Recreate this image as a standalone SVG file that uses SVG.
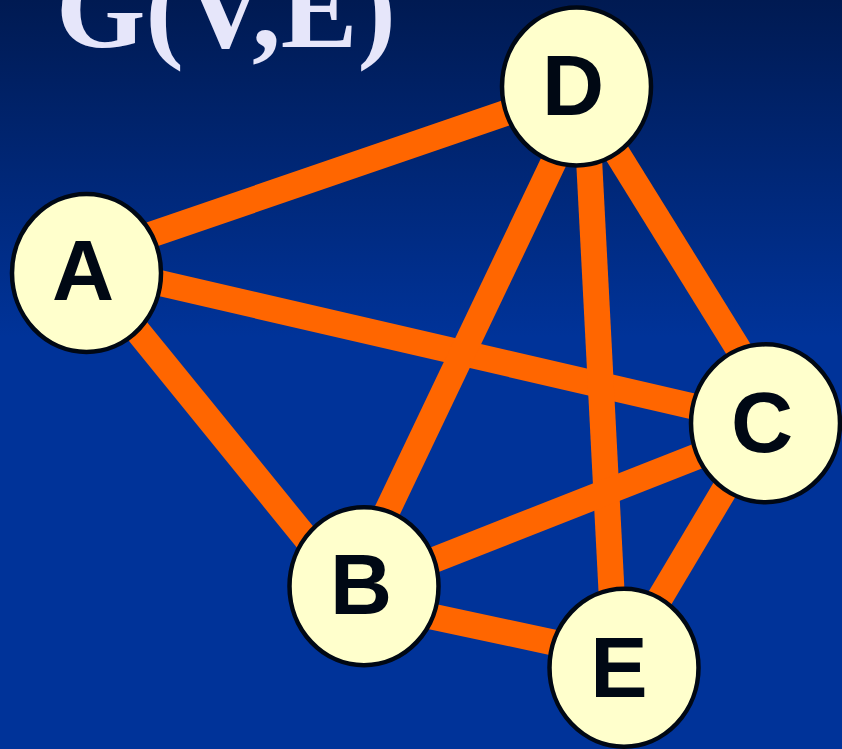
<svg xmlns="http://www.w3.org/2000/svg" width="842" height="749" viewBox="0 0 842 749">
  <defs>
    <linearGradient id="bg" x1="0" y1="0" x2="0" y2="749" gradientUnits="userSpaceOnUse">
      <stop offset="0" stop-color="#001a52"/>
      <stop offset="0.45" stop-color="#003399"/>
      <stop offset="1" stop-color="#003399"/>
    </linearGradient>
    <style>
      .edge { stroke: #ff6600; stroke-width: 26; stroke-linecap: butt; fill: none; }
      .node ellipse { fill: #ffffcc; stroke: #000814; stroke-width: 4.5; }
      .node text { font-family: "Liberation Sans", Arial, sans-serif; font-weight: bold; font-size: 86px; fill: #000814; text-anchor: middle; }
      .title { font-family: "Liberation Serif", "Times New Roman", serif; font-weight: bold; font-size: 115px; fill: #e6e6fa; }
    </style>
  </defs>
  <rect x="0" y="0" width="842" height="749" fill="url(#bg)"/>
  <text class="title" x="56" y="47">G(V,E)</text>
  <g id="edges">
    <line class="edge" x1="120" y1="245.3" x2="540" y2="101.2"/>
    <line class="edge" x1="130" y1="276.1" x2="720" y2="412.6"/>
    <line class="edge" x1="110" y1="297.1" x2="330" y2="567.7"/>
    <line class="edge" x1="561.9" y1="144.5" x2="375.7" y2="535"/>
    <line class="edge" x1="587" y1="120" x2="612.5" y2="610"/>
    <line class="edge" x1="592.7" y1="114" x2="745.5" y2="360.5"/>
    <line class="edge" x1="420" y1="565.5" x2="720" y2="447.3"/>
    <line class="edge" x1="646.9" y1="620" x2="736.2" y2="470"/>
    <line class="edge" x1="420" y1="614" x2="580" y2="648.2"/>
  </g>
  <g id="node-A" class="node">
    <ellipse cx="86.5" cy="273" rx="74.5" ry="79"/>
    <text x="83" y="300">A</text>
  </g>
  <g id="node-D" class="node">
    <ellipse cx="576.5" cy="86.5" rx="74.5" ry="79"/>
    <text x="573" y="115">D</text>
  </g>
  <g id="node-C" class="node">
    <ellipse cx="765.5" cy="423.3" rx="74.5" ry="79"/>
    <text x="762" y="451.5">C</text>
  </g>
  <g id="node-B" class="node">
    <ellipse cx="364" cy="586.3" rx="74.5" ry="79"/>
    <text x="361" y="614">B</text>
  </g>
  <g id="node-E" class="node">
    <ellipse cx="624" cy="667.7" rx="74.5" ry="79"/>
    <text x="619" y="696.7">E</text>
  </g>
</svg>
